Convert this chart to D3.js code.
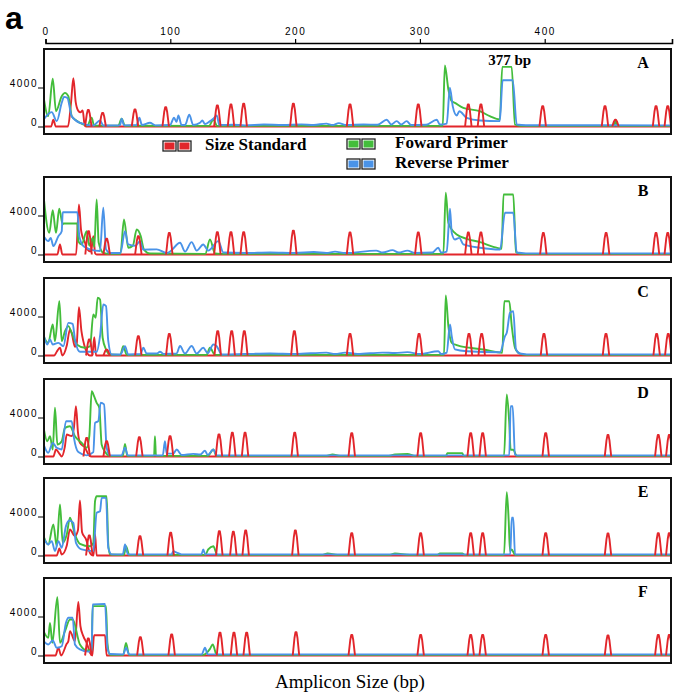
<!DOCTYPE html>
<html><head><meta charset="utf-8">
<script src="https://cdn.jsdelivr.net/npm/d3@7"></script>
<style>body{margin:0;background:#fff}</style>
</head><body>
<svg id="chart" width="683" height="695"></svg>
<script>
// ---------------- DATA (bp, relative fluorescence) ----------------
const panelNames = ["A","B","C","D","E","F"];
const topTicks = [0,100,200,300,400];
const yTicks = [0,4000];
const legendItems = ["Size Standard","Foward Primer","Reverse Primer"];

const greenA = [[-1.5,3000],[2.2,1060],[5.8,4890],[8.4,1570],[13,3110],[15.6,3450],[18.3,3110],[21,1060],[23.6,720],[27.6,380],[33.5,100],[37,890],[38.9,100],[58.3,80],[61,790],[63.7,80],[131,60],[134.5,720],[137.5,60],[318.3,60],[320,6260],[322.8,3800],[325.5,2600],[328,2430],[334.8,1910],[348,1570],[356,1060],[364,720],[366,6120],[373.5,6120],[376.2,200],[380,60],[455.5,60],[456.8,650],[458,60],[503,60]];
const blueA = [[-1.5,720],[5,1470],[9,550],[13,2430],[14.8,3040],[17.5,2940],[21,1060],[27.6,380],[38.3,100],[43.7,620],[46.3,100],[59.7,120],[61,790],[62.9,120],[73,150],[75.2,890],[77.3,150],[83.7,380],[88,120],[99.8,150],[103,890],[105,480],[106.5,1130],[109,150],[111.8,150],[115.2,1200],[118.4,150],[123.8,380],[125.6,620],[127.8,250],[131.8,550],[134.5,790],[137.2,1130],[139.3,150],[150,180],[160,120],[175,200],[190,150],[205,220],[215,150],[225,300],[230,150],[235,350],[241,150],[255,200],[266,180],[273.4,700],[277,200],[281.4,550],[285,200],[289.4,550],[293,150],[305,180],[313.5,700],[316,200],[321.5,300],[324,3970],[326.3,2090],[329.5,1130],[331.6,1570],[337.5,890],[348.2,615],[364,550],[366.3,4750],[374.4,4750],[377.6,200],[385,130],[503,120]];
const redA = [[-1.5,0],[4.5,0],[6.3,700],[8.2,0],[18,0],[20.5,2500],[22.3,4950],[24.2,2500],[26.3,1600],[28,1450],[29.8,1650],[31.3,200],[32.5,0],[503,0]];
const peaksA = [[34.3,1700],[45.8,1400],[71.7,1740],[96.3,1980],[137.7,2150],[148.6,2250],[158.8,2330],[198.6,2330],[244,2260],[298.7,2260],[338.8,2260],[348.9,2260],[398.4,2090],[448.3,2090],[456.7,700],[489.2,2090],[498.6,2090]];

const greenB = [[-1.5,5980],[3,2220],[5.8,4540],[8.4,2220],[11,4690],[13.8,3080],[14.3,3180],[25.5,3180],[26.3,1370],[29,1030],[33,2390],[35.1,900],[37.8,1710],[39.1,800],[41,5640],[42.6,1230],[46.3,170],[51.7,60],[60,60],[62.9,3590],[66.3,690],[70,900],[73.1,2560],[76.3,1880],[78.9,500],[83.7,100],[128,60],[131.8,1540],[135.8,100],[140,60],[318.8,60],[320.7,6330],[322.8,3250],[325.5,2560],[329.5,2050],[337.5,1610],[348.2,1260],[358.8,790],[365.5,590],[367,6150],[374.8,6150],[377,240],[382,60],[503,60]];
const blueB = [[-1.5,1880],[2.2,1370],[4.2,1710],[6.3,860],[10.3,1880],[13,2390],[13.8,4340],[25.5,4340],[27.1,1880],[30.3,870],[35.7,530],[43.7,360],[46.3,4790],[48.5,530],[51.7,150],[60,150],[63.7,2390],[66.3,1030],[72,900],[75.7,1370],[78.4,500],[89.1,530],[97.1,150],[99.8,300],[107.8,1200],[111.8,300],[117.1,1270],[121.2,400],[126.4,1030],[130.4,400],[138.5,1370],[142.5,200],[160,150],[180,200],[200,150],[215,250],[225,150],[232,300],[240,150],[265,400],[270,200],[278,450],[283,200],[290,400],[296,150],[310,200],[314.7,690],[317,200],[321.5,300],[324.1,4690],[325.5,2220],[328.1,1540],[331.6,1710],[334.8,1030],[348.2,690],[364.2,510],[368.2,4280],[374.8,4280],[377.6,200],[385,120],[503,120]];
const redB = [[-1.5,0],[9.5,0],[11.6,1030],[13.5,0],[24.5,0],[26.8,5130],[28.5,2500],[29.5,1880],[31.7,1200],[33,600],[36.5,300],[38.3,1880],[39.8,100],[41,0],[503,0]];
const peaksB = [[34.5,2390],[49,1610],[74.4,1880],[99.2,2220],[137.7,2280],[148.6,2280],[158.8,2280],[198.6,2450],[244,2250],[298.7,2250],[338.8,2250],[348.9,2250],[398.9,2200],[449.2,2200],[489.2,2200],[498.6,2200]];

const greenC = [[-1.5,1980],[2.2,1300],[5.8,3180],[7.6,1470],[11.1,5570],[13,1470],[15.6,2490],[18.3,3010],[21,2330],[25,1130],[31.7,790],[35.7,950],[38.3,4200],[40.2,3870],[41.8,5920],[43.7,5740],[45.8,1820],[48.5,620],[51.7,100],[60,60],[62.3,950],[65.1,60],[129,60],[131.8,790],[135.8,60],[319.3,60],[320.7,6150],[322.8,3010],[325.5,1300],[329.5,1060],[340.1,790],[350.8,620],[366,280],[367.6,5570],[371.6,5570],[373.6,3010],[376.2,790],[380,200],[385.6,60],[503,60]];
const blueC = [[-1.5,2150],[1.4,1130],[3.6,1640],[5.8,1130],[10.3,1300],[14.3,950],[18.3,3350],[21.8,3250],[23.6,1640],[27.6,380],[41,380],[43.7,1980],[46.3,5230],[48.5,5060],[50.3,1470],[53,100],[60,100],[63.7,950],[66.3,100],[76,150],[78.4,790],[81,200],[89.1,200],[91.7,380],[95,150],[105,200],[107.8,970],[111.8,200],[117.1,970],[121.2,200],[126.4,790],[130,250],[134.5,1130],[137.2,950],[141.2,100],[160,150],[180,200],[200,150],[225,300],[232,150],[240,300],[250,150],[270,300],[280,250],[290,350],[300,150],[314.7,440],[317,150],[321.5,300],[324.1,3180],[325.5,1980],[328.1,620],[337.5,440],[364.2,340],[368.2,1980],[369.6,2330],[372.2,4380],[374.8,4540],[377,620],[380,200],[385.6,120],[503,120]];
const redC = [[-1.5,0],[7,0],[9,380],[11.6,790],[13.5,0],[17,1000],[19.6,2670],[21,2300],[23.6,900],[25,1200],[26.8,4960],[28.8,2500],[30.3,1470],[33.2,300],[35.5,0],[37.5,0],[39.1,1880],[40.5,0],[503,0]];
const peaksC = [[35.1,1640],[49,600],[74.4,1980],[99.2,2220],[138,2490],[149.2,2490],[159.3,2490],[199.4,2490],[244,2220],[299.3,2220],[339.3,2220],[349.5,2220],[399.4,2220],[449.1,2220],[489.7,2220],[499,2220]];

const greenD = [[-1.5,2940],[1.4,1570],[3.6,2080],[5.8,720],[7.6,5000],[9.5,1230],[13,1570],[15.6,2940],[19.6,3110],[23.6,2080],[29,1400],[33,890],[35.1,2080],[37,6700],[38.9,6190],[41,5510],[43.1,5000],[45,1230],[47.7,480],[51.7,60],[62,60],[63.7,1300],[65.5,60],[87,60],[87.7,2080],[88.5,60],[130,60],[134.5,720],[137,60],[225,60],[230,200],[236,60],[275,60],[280,200],[290,250],[296,60],[321,60],[322,350],[334,350],[335,60],[367.4,60],[369.6,6360],[371.6,3450],[372.7,690],[374.8,690],[377.6,60],[503,60]];
const blueD = [[-1.5,1230],[2.2,380],[5.8,1400],[9,890],[13,720],[16.4,3620],[21,3620],[22.8,1910],[26.3,450],[33,120],[38.3,450],[39.7,3450],[42.3,3620],[44.2,5510],[46.9,5340],[49,890],[51.7,120],[61,120],[63.7,890],[66,120],[94,120],[95.7,1570],[97.1,300],[102.4,300],[105.1,720],[109.1,150],[118.4,270],[124,200],[127.8,600],[130,150],[134.5,720],[137,120],[371.6,120],[372.7,5160],[374.3,5160],[376.2,200],[378,120],[503,120]];
const redD = [[-1.5,0],[6.3,0],[8.4,720],[11.1,300],[13,0],[15.5,1000],[17,2250],[21,2100],[22.8,3000],[24.4,5160],[26,2500],[27.6,1400],[31.7,900],[35,100],[37,0],[503,0]];
const peaksD = [[33,1910],[49,1570],[75.2,1980],[99.8,2080],[139,2260],[149.7,2430],[159.9,2430],[199.7,2430],[245.4,2390],[300.6,2390],[340.7,2390],[350.3,2390],[400.8,2390],[450.7,2200],[491,2200],[499.8,2200]];

const greenE = [[-1.5,1980],[2.2,1130],[6.3,3180],[9,950],[11.6,5230],[13.8,1300],[17,2150],[19.6,3870],[23.6,2150],[27.6,1200],[35.7,950],[38.3,1300],[39.7,5570],[41,6080],[49,6080],[50.3,1130],[51.7,100],[62.9,80],[64.5,950],[67.1,60],[128,60],[130.4,620],[134.5,950],[137.6,60],[222,60],[226,200],[234,60],[276,60],[280,200],[292,60],[314,60],[316,200],[334,200],[336,60],[367.4,60],[369.6,6490],[371.1,3690],[372.2,440],[373.5,620],[376.2,60],[503,60]];
const blueE = [[-1.5,1810],[2.2,1130],[5,1470],[7.6,450],[10.3,1470],[13,790],[16.4,3010],[19.1,3590],[22.3,3350],[24.4,1300],[29,620],[38.3,450],[41,4380],[43.7,4540],[45,5910],[48.5,5910],[50.3,790],[53,120],[62,120],[63.7,1130],[66,120],[101,120],[102.4,450],[105.1,300],[109,120],[125,120],[126.4,620],[128,120],[372.4,120],[373.6,3870],[374.8,3870],[376.2,120],[503,120]];
const redE = [[-1.5,0],[9,0],[11.1,720],[13,100],[17,1000],[19.6,2670],[23.6,2000],[26,2600],[27.6,5640],[29.3,2390],[33,1470],[34,900],[36.5,100],[38.5,0],[39.7,2220],[41,0],[503,0]];
const peaksE = [[35.1,2050],[75.7,1980],[100.3,2330],[139.3,2490],[150.5,2430],[160.4,2560],[200.2,2560],[245.4,2290],[300.6,2290],[340.7,2290],[350.3,2290],[400.8,2290],[450.7,2250],[491,2290],[499.8,2290]];

const greenF = [[-1.5,2490],[2.2,1810],[3.6,3350],[5.5,1300],[9.5,5980],[11.6,1300],[15.6,2490],[19.6,3690],[21.8,3690],[27.6,1130],[33.5,510],[37,600],[37.8,5060],[48.5,5060],[49.6,1300],[51.7,80],[62.3,60],[64.5,1300],[67,60],[126.4,60],[131.8,680],[134,1130],[137.2,60],[503,60]];
const blueF = [[-1.5,1470],[2.2,1130],[5.8,1540],[9,790],[13,950],[16.4,3350],[18.3,3870],[21.8,3870],[23.6,1130],[27.6,620],[34.3,400],[37,450],[37.8,5230],[47.7,5300],[49.6,790],[51.7,150],[62.3,120],[64.5,790],[67,120],[125.2,120],[127.8,790],[130,120],[503,120]];
const redF = [[-1.5,0],[8,0],[10.3,790],[12.5,0],[17,1200],[18.3,1470],[19.6,2500],[23.6,1470],[26.3,5500],[28,3000],[30.3,1980],[33,1300],[36,200],[37.5,0],[38.9,2080],[47.7,2080],[49,0],[503,0]];
const peaksF = [[34.3,1750],[76,1880],[101.1,2150],[139.8,2330],[151,2330],[161.2,2330],[200.7,2390],[245.4,2120],[300.6,2120],[340.7,2120],[350.3,2120],[400.8,2120],[450.7,2050],[491,2120],[499.8,2120]];

const greens = [greenA,greenB,greenC,greenD,greenE,greenF];
const blues = [blueA,blueB,blueC,blueD,blueE,blueF];
const reds = [redA,redB,redC,redD,redE,redF];
const peaks = [peaksA,peaksB,peaksC,peaksD,peaksE,peaksF];

// ---------------- DRAWING ----------------
const colors = {red:"#e2262b", green:"#43bd3b", blue:"#4a93e8"};
const serif = "'Liberation Serif','Times New Roman',serif";
const sans = "'Liberation Sans',Arial,sans-serif";
const svg = d3.select("#chart");
const x = d3.scaleLinear().domain([0,502]).range([45.5,672]);
const tops = [49,177,278,379,478,578];
const boxL = 44, boxR = 671, boxH = 85;

svg.append("text").attr("x",5).attr("y",29).text("a")
  .attr("font-family",sans).attr("font-weight","bold").attr("font-size",32);

const gTop = svg.append("g").attr("transform","translate(0,43)")
  .call(d3.axisTop(x).tickValues(topTicks).tickSize(4).tickSizeOuter(4).tickPadding(4));
gTop.select(".domain").attr("stroke","#000").attr("stroke-width",1.6);
gTop.selectAll(".tick line").attr("stroke","#000").attr("stroke-width",1.2);
gTop.selectAll("text").attr("font-family",sans).attr("font-size",10)
  .attr("letter-spacing","1.5px").attr("fill","#000");

const defs = svg.append("defs");
panelNames.forEach((name,i)=>{
  const top = tops[i];
  const y = d3.scaleLinear().domain([0,4000]).range([top+77.5, top+38.5]);
  defs.append("clipPath").attr("id","clip"+i).append("rect")
    .attr("x",boxL+1).attr("y",top+1).attr("width",boxR-boxL-2).attr("height",boxH-2);
  const g = svg.append("g").attr("clip-path",`url(#clip${i})`);
  const smooth = d3.line().x(d=>x(d[0])).y(d=>y(d[1])).curve(d3.curveMonotoneX);
  const line = d3.line().x(d=>x(d[0])).y(d=>y(d[1]));
  const draw = (data,col)=> g.append("path").datum(data).attr("d",smooth)
      .attr("fill","none").attr("stroke",col).attr("stroke-width",1.9)
      .attr("stroke-linejoin","round");
  draw(reds[i], colors.red);
  draw(greens[i], colors.green);
  draw(blues[i], colors.blue);
  g.selectAll("path.peak").data(peaks[i]).enter().append("path").attr("class","peak")
    .attr("d",d=>line([[d[0]-2.6,0],[d[0]-1.2,d[1]*0.75],[d[0]-0.4,d[1]],[d[0]+0.4,d[1]],[d[0]+1.2,d[1]*0.75],[d[0]+2.6,0]]))
    .attr("fill","none").attr("stroke",colors.red).attr("stroke-width",1.9).attr("stroke-linejoin","round");

  svg.append("rect").attr("x",boxL).attr("y",top).attr("width",boxR-boxL).attr("height",boxH)
    .attr("fill","none").attr("stroke","#111").attr("stroke-width",2);

  const ga = svg.append("g").attr("transform",`translate(${boxL},0)`)
    .call(d3.axisLeft(y).tickValues(yTicks).tickSize(6).tickPadding(0).tickFormat(d3.format("d")));
  ga.select(".domain").remove();
  ga.selectAll(".tick line").attr("stroke","#000");
  ga.selectAll("text").attr("font-family",sans).attr("font-size",10).attr("dy","-0.1em")
    .attr("letter-spacing","1.5px").attr("fill","#000");

  svg.append("text").attr("x",643).attr("y",top+19).attr("text-anchor","middle")
    .attr("font-family",serif).attr("font-weight","bold").attr("font-size",16).text(name);
});

svg.append("text").attr("x",x(372)).attr("y",tops[0]+16).attr("text-anchor","middle")
  .attr("font-family",serif).attr("font-weight","bold").attr("font-size",15).text("377 bp");

// legend
const legend = [
  {label:legendItems[0], col:colors.red, sx:163, sy:141, tx:205, ty:150},
  {label:legendItems[1], col:colors.green, sx:347, sy:139, tx:395, ty:148},
  {label:legendItems[2], col:colors.blue, sx:347, sy:159, tx:395, ty:168}
];
legend.forEach(l=>{
  [0,15].forEach(off=>{
    svg.append("rect").attr("x",l.sx+off).attr("y",l.sy).attr("width",13).attr("height",10)
      .attr("fill","#fff").attr("stroke","#222").attr("stroke-width",1.3);
    svg.append("rect").attr("x",l.sx+off+1.5).attr("y",l.sy+1.5).attr("width",10).attr("height",7)
      .attr("fill",l.col);
  });
  svg.append("text").attr("x",l.tx).attr("y",l.ty).text(l.label)
    .attr("font-family",serif).attr("font-weight","bold").attr("font-size",17);
});

svg.append("text").attr("x",350).attr("y",688).attr("text-anchor","middle")
  .attr("font-family",serif).attr("font-size",19).text("Amplicon Size (bp)");
</script>
</body></html>
